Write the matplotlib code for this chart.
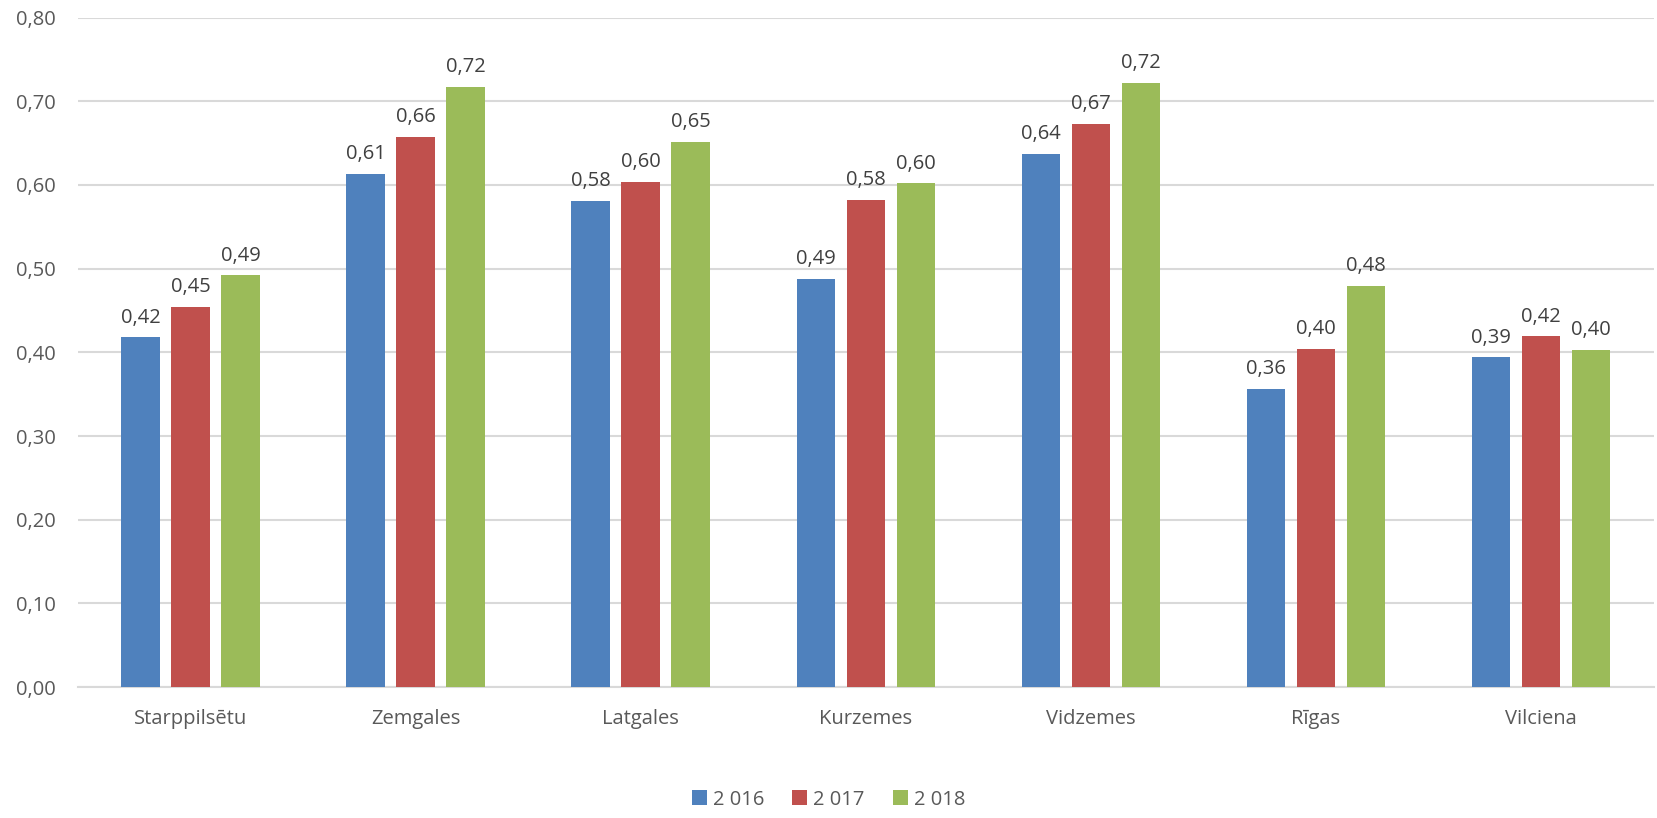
import numpy as np
import matplotlib.pyplot as plt
from matplotlib.ticker import FuncFormatter

# data
categories = ["Starppilsētu", "Zemgales", "Latgales", "Kurzemes", "Vidzemes", "Rīgas", "Vilciena"]
years = ["2 016", "2 017", "2 018"]
v2016 = [0.418, 0.613, 0.581, 0.488, 0.637, 0.356, 0.394]
v2017 = [0.454, 0.657, 0.604, 0.582, 0.673, 0.404, 0.419]
v2018 = [0.492, 0.717, 0.651, 0.602, 0.722, 0.479, 0.403]

colors = ["#4F81BD", "#C0504D", "#9BBB59"]

plt.rcParams["font.family"] = ["Open Sans", "DejaVu Sans"]

fig = plt.figure(figsize=(16.57, 8.18), dpi=100)
ax = fig.add_axes([0.047, 0.160, 0.951, 0.8186])

x = np.arange(len(categories))
width = 0.171
step = 0.222

for i, (vals, lab) in enumerate(zip([v2016, v2017, v2018], years)):
    bars = ax.bar(x + (i - 1) * step, vals, width, color=colors[i], label=lab, zorder=3)
    for b, v in zip(bars, vals):
        ax.annotate(f"{v:.2f}".replace(".", ","),
                    (b.get_x() + b.get_width() / 2, v),
                    xytext=(0, 7), textcoords="offset points",
                    ha="center", va="bottom", fontsize=14.5, color="#404040")

ax.set_xlim(-0.5, len(categories) - 0.5)
ax.set_ylim(0, 0.8)
ax.set_yticks(np.arange(0, 0.81, 0.1))
ax.yaxis.set_major_formatter(FuncFormatter(lambda v, p: f"{v:.2f}".replace(".", ",")))
ax.set_xticks(x)
ax.set_xticklabels(categories)

ax.grid(axis="y", color="#D9D9D9", linewidth=1.5, zorder=0)
for s in ["top", "right", "left"]:
    ax.spines[s].set_visible(False)
ax.spines["bottom"].set_color("#D9D9D9")
ax.spines["bottom"].set_linewidth(1.5)
ax.tick_params(axis="both", length=0, labelsize=14.5, colors="#595959")
ax.tick_params(axis="y", pad=16)
ax.tick_params(axis="x", pad=16)

fig.legend(loc="lower center", bbox_to_anchor=(0.5, -0.012), ncol=3, frameon=False,
           fontsize=14.5, labelcolor="#595959", handlelength=0.75, handleheight=0.75,
           handletextpad=0.3, columnspacing=1.4)

fig.savefig("out.png", dpi=100)
